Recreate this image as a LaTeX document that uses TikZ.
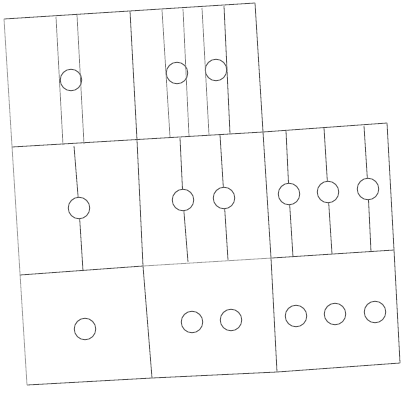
\documentclass[tikz,border=0pt]{standalone}
\begin{document}
\begin{tikzpicture}[x=1pt,y=-1pt,
  edge/.style={draw=black!70, line width=0.8pt, line join=round},
  faint/.style={draw=black!40, line width=0.8pt},
  pipe/.style={draw=black!55, line width=0.7pt},
  hole/.style={circle, draw=black!70, line width=0.85pt, minimum size=21.5pt, inner sep=0pt}]
\useasboundingbox (0,0) rectangle (406,394);

% ---- outline and grid ----
\draw[faint] (4,19) -- (27,385);                          % left edge
\draw[edge] (4,19) -- (255,3);                            % top edge
\draw[edge] (12,147) -- (263,132) -- (387,123);           % first row divider
\draw[edge] (20,275) -- (143,266);
\draw[faint] (143,266) -- (272,258);
\draw[edge] (272,258) -- (394,250);                       % second row divider
\draw[edge] (27,385) -- (152,378) -- (277,372) -- (400,363); % bottom edge
\draw[edge] (130,11) -- (137,140) -- (143,266) -- (152,378); % column divider 1
\draw[edge] (255,3) -- (263,132) -- (271,258) -- (277,372);  % column divider 2
\draw[edge] (387,123) -- (394,250) -- (400,363);             % right edge

% ---- top row: holes with tangent lines ----
\node[hole] (t1) at (71,80) {};
\node[hole] (t2) at (177,73) {};
\node[hole] (t3) at (216,70) {};
\draw[pipe] (56,17) -- (63,145);
\draw[pipe] (77,15) -- (84,144);
\draw[pipe] (162,10) -- (170,137);
\draw[pipe] (183,9) -- (189,136);
\draw[pipe] (202,8) -- (209,135);
\draw[edge] (224,6) -- (230,134);

% ---- middle row: holes on centre lines ----
\coordinate (m1t) at (74,146);  \coordinate (m1b) at (83,271);
\coordinate (m2t) at (180,138); \coordinate (m2b) at (188,262);
\coordinate (m3t) at (220,135); \coordinate (m3b) at (228,260);
\coordinate (m4t) at (286,131); \coordinate (m4b) at (293,257);
\coordinate (m5t) at (324,128); \coordinate (m5b) at (332,254);
\coordinate (m6t) at (364,126); \coordinate (m6b) at (371,252);
\node[hole] (m1) at (79,208) {};
\node[hole] (m2) at (183,200) {};
\node[hole] (m3) at (224,198) {};
\node[hole] (m4) at (289,194) {};
\node[hole] (m5) at (328,192) {};
\node[hole] (m6) at (368,189) {};
\foreach \i in {1,...,6}{
  \draw[edge] (m\i t) -- (m\i);
  \draw[edge] (m\i) -- (m\i b);
}

% ---- bottom row: holes only ----
\node[hole] (b1) at (85,329) {};
\node[hole] (b2) at (192,322) {};
\node[hole] (b3) at (231,320) {};
\node[hole] (b4) at (296,316) {};
\node[hole] (b5) at (335,314) {};
\node[hole] (b6) at (375,312) {};
\end{tikzpicture}
\end{document}
